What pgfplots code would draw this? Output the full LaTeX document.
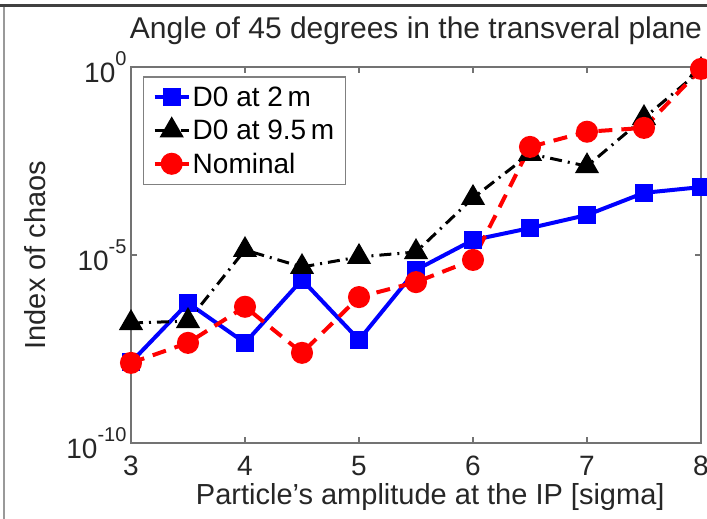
\documentclass[border=0pt]{standalone}
\usepackage{pgfplots}
\pgfplotsset{compat=1.18}
\usepackage{fontspec}
\setmainfont{Liberation Sans}
\newcommand{\tenpow}[1]{10\raisebox{0.6em}{\fontsize{20}{20}\selectfont #1}}
\begin{document}
\begin{tikzpicture}[x=1pt,y=1pt]
\begin{axis}[
  at={(131pt,76pt)}, anchor=south west,
  scale only axis, width=570pt, height=376pt,
  ymode=log, xmin=3, xmax=8, ymin=1e-10, ymax=1,
  clip=false,
  axis line style={draw=black!55, line width=2.5pt},
  tick style={draw=black!55, line width=1.5pt},
  major tick length=6pt, minor tick length=0pt,
  xtick={3,4,5,6,7,8}, xticklabels={3,4,5,6,7,8},
  ytick={1e-10,1e-5,1}, yticklabels={\tenpow{-10},\tenpow{-5},\tenpow{0}},
  tick label style={font=\fontsize{28}{28}\selectfont, text=black!85},
  xticklabel style={anchor=base, yshift=-32pt},
  yticklabel style={xshift=-1pt},
  title={Angle of 45 degrees in the transveral plane},
  title style={at={(0.5,1)}, anchor=base, yshift=22pt, font=\fontsize{30}{30}\selectfont, text=black!85},
  xlabel={Particle's amplitude at the IP [sigma]},
  xlabel style={at={(axis description cs:0.525,0)}, anchor=base, yshift=-61pt, font=\fontsize{29}{29}\selectfont, text=black!85},
  ylabel={Index of chaos},
  ylabel style={at={(axis description cs:-0.168,0.5)}, anchor=center, font=\fontsize{29}{29}\selectfont, text=black!85},
  legend style={at={(0.021,0.976)}, anchor=north west, draw=black!50, line width=1.5pt,
    font=\fontsize{28}{28}\selectfont, row sep=8pt, inner xsep=9pt, inner ysep=8pt, cells={anchor=west}},
  legend image code/.code={\draw[mark repeat=2,mark phase=2,#1] plot coordinates {(0pt,0pt) (17pt,0pt) (34pt,0pt)};},
]
\addplot[blue, line width=4pt, mark=square*, mark size=7pt, mark options={solid}] coordinates {
(3,1.4e-8) (3.5,5.3e-7) (4,4.6e-8) (4.5,2.2e-6) (5,5.5e-8) (5.5,4.0e-6)
(6,2.5e-5) (6.5,5.2e-5) (7,1.16e-4) (7.5,4.5e-4) (8,6.4e-4)};
\addlegendentry{D0 at 2\,m}
\addplot[black, line width=3pt, dash pattern=on 12pt off 6pt on 2pt off 6pt, mark=triangle*, mark size=11pt, mark options={solid}] coordinates {
(3,1.55e-7) (3.5,1.75e-7) (4,1.36e-5) (4.5,4.8e-6) (5,8.9e-6) (5.5,1.2e-5)
(6,3.3e-4) (6.5,4.9e-3) (7,2.3e-3) (7.5,4.4e-2) (8,0.83)};
\addlegendentry{D0 at 9.5\,m}
\addplot[red, line width=4pt, dash pattern=on 14pt off 9pt, mark=*, mark size=9pt, mark options={solid}] coordinates {
(3,1.35e-8) (3.5,4.6e-8) (4,4.2e-7) (4.5,2.5e-8) (5,7.6e-7) (5.5,1.9e-6)
(6,7.4e-6) (6.5,7.5e-3) (7,1.9e-2) (7.5,2.4e-2) (8,0.89)};
\addlegendentry{Nominal}
\end{axis}
\draw[black!40, line width=1.5pt] (4,0) -- (4,513);
\draw[black!75, line width=2.5pt] (0,513.5) -- (707,513.5);
\pgfresetboundingbox
\useasboundingbox (0,0) rectangle (707,519);
\end{tikzpicture}
\end{document}
